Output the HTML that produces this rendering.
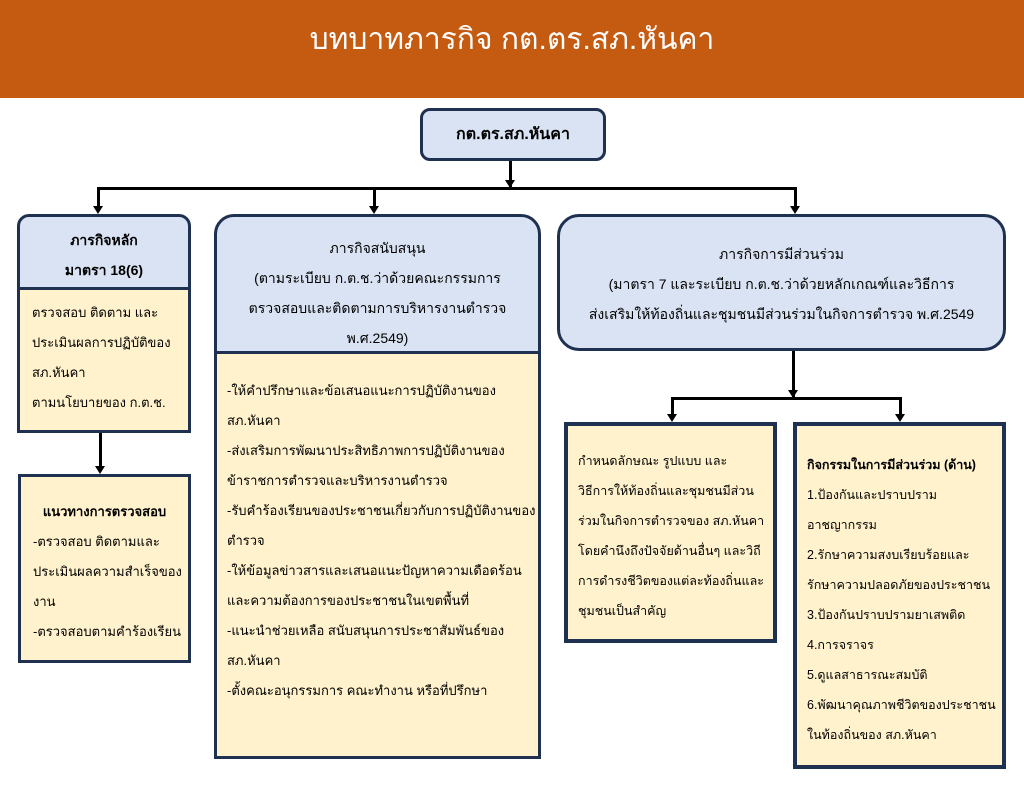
<!DOCTYPE html>
<html><head><meta charset="utf-8"><style>
body{margin:0;width:1024px;height:791px;background:#fff;position:relative;overflow:hidden;font-family:"Liberation Sans",sans-serif;color:#000}
.a{position:absolute;box-sizing:border-box;white-space:nowrap}
.hdr{left:0;top:0;width:1024px;height:98px;background:#c55a11;color:#fff;font-size:30px;text-align:center;line-height:80px}
.blue{background:#dae3f3;border:3px solid #1f3150}
.yel{background:#fff2cc;border:3px solid #1f3150}
.c{text-align:center}
.t{font-size:13px;line-height:30px}
.ln{background:#000}
.ar{width:0;height:0;border-left:5px solid transparent;border-right:5px solid transparent;border-top:8px solid #000}
</style></head><body>
<div class="a hdr">บทบาทภารกิจ กต.ตร.สภ.หันคา</div>

<div class="a blue c" style="left:420px;top:108px;width:186px;height:53px;border-radius:10px;font-size:16px;font-weight:bold;line-height:47px">กต.ตร.สภ.หันคา</div>

<div class="a ln" style="left:509px;top:161px;width:3px;height:27px"></div>
<div class="a ar" style="left:505px;top:180px"></div>
<div class="a ln" style="left:97px;top:187px;width:700px;height:3px"></div>
<div class="a ln" style="left:97px;top:187px;width:3px;height:22px"></div><div class="a ar" style="left:93px;top:206px"></div>
<div class="a ln" style="left:373px;top:187px;width:3px;height:22px"></div><div class="a ar" style="left:369px;top:206px"></div>
<div class="a ln" style="left:794px;top:187px;width:3px;height:22px"></div><div class="a ar" style="left:790px;top:206px"></div>

<div class="a blue c t" style="left:17px;top:214px;width:174px;height:76px;border-radius:12px 12px 0 0;font-weight:bold;padding-top:8px;font-size:14px">ภารกิจหลัก<br>มาตรา 18(6)</div>
<div class="a yel t" style="left:17px;top:287px;width:174px;height:146px;padding:8px 0 0 12px">ตรวจสอบ ติดตาม และ<br>ประเมินผลการปฏิบัติของ<br>สภ.หันคา<br>ตามนโยบายของ ก.ต.ช.</div>
<div class="a ln" style="left:99px;top:433px;width:3px;height:35px"></div><div class="a ar" style="left:95px;top:466px"></div>
<div class="a yel t" style="left:18px;top:474px;width:173px;height:189px;padding:20px 0 0 12px"><div class="c" style="font-weight:bold;margin-left:-12px">แนวทางการตรวจสอบ</div>-ตรวจสอบ ติดตามและ<br>ประเมินผลความสำเร็จของ<br>งาน<br>-ตรวจสอบตามคำร้องเรียน</div>

<div class="a blue c t" style="left:214px;top:214px;width:327px;height:140px;border-radius:20px 20px 0 0;padding-top:16px;font-size:14px">ภารกิจสนับสนุน<br>(ตามระเบียบ ก.ต.ช.ว่าด้วยคณะกรรมการ<br>ตรวจสอบและติดตามการบริหารงานตำรวจ<br>พ.ศ.2549)</div>
<div class="a yel t" style="left:214px;top:351px;width:327px;height:408px;padding:22px 0 0 10px">-ให้คำปรึกษาและข้อเสนอแนะการปฏิบัติงานของ<br>สภ.หันคา<br>-ส่งเสริมการพัฒนาประสิทธิภาพการปฏิบัติงานของ<br>ข้าราชการตำรวจและบริหารงานตำรวจ<br>-รับคำร้องเรียนของประชาชนเกี่ยวกับการปฏิบัติงานของ<br>ตำรวจ<br>-ให้ข้อมูลข่าวสารและเสนอแนะปัญหาความเดือดร้อน<br>และความต้องการของประชาชนในเขตพื้นที่<br>-แนะนำช่วยเหลือ สนับสนุนการประชาสัมพันธ์ของ<br>สภ.หันคา<br>-ตั้งคณะอนุกรรมการ คณะทำงาน หรือที่ปรึกษา</div>

<div class="a blue c t" style="left:557px;top:214px;width:449px;height:137px;border-radius:22px;padding-top:22px;font-size:14px">ภารกิจการมีส่วนร่วม<br>(มาตรา 7 และระเบียบ ก.ต.ช.ว่าด้วยหลักเกณฑ์และวิธีการ<br>ส่งเสริมให้ท้องถิ่นและชุมชนมีส่วนร่วมในกิจการตำรวจ พ.ศ.2549</div>
<div class="a ln" style="left:792px;top:351px;width:3px;height:47px"></div><div class="a ar" style="left:788px;top:390px"></div>
<div class="a ln" style="left:671px;top:397px;width:231px;height:3px"></div>
<div class="a ln" style="left:671px;top:397px;width:3px;height:18px"></div><div class="a ar" style="left:667px;top:414px"></div>
<div class="a ln" style="left:899px;top:397px;width:3px;height:18px"></div><div class="a ar" style="left:895px;top:414px"></div>

<div class="a yel t" style="left:564px;top:422px;width:213px;height:221px;padding:20px 0 0 10px;border-width:4px;font-size:12.5px">กำหนดลักษณะ รูปแบบ และ<br>วิธีการให้ท้องถิ่นและชุมชนมีส่วน<br>ร่วมในกิจการตำรวจของ สภ.หันคา<br>โดยคำนึงถึงปัจจัยด้านอื่นๆ และวิถี<br>การดำรงชีวิตของแต่ละท้องถิ่นและ<br>ชุมชนเป็นสำคัญ</div>
<div class="a yel t" style="left:793px;top:422px;width:213px;height:347px;padding:24px 0 0 10px;border-width:4px;font-size:12.5px"><b>กิจกรรมในการมีส่วนร่วม (ด้าน)</b><br>1.ป้องกันและปราบปราม<br>อาชญากรรม<br>2.รักษาความสงบเรียบร้อยและ<br>รักษาความปลอดภัยของประชาชน<br>3.ป้องกันปราบปรามยาเสพติด<br>4.การจราจร<br>5.ดูแลสาธารณะสมบัติ<br>6.พัฒนาคุณภาพชีวิตของประชาชน<br>ในท้องถิ่นของ สภ.หันคา</div>
</body></html>
